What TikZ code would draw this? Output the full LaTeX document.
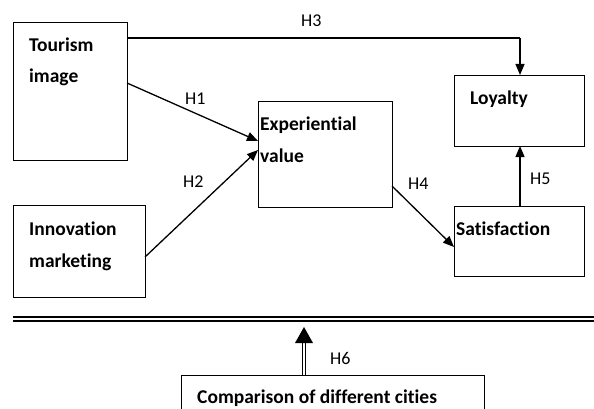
\documentclass[tikz,border=0pt]{standalone}
\usepackage{fontspec}
\setmainfont{Carlito}[Ligatures=CommonOff]
\usetikzlibrary{arrows.meta}
\begin{document}
\begin{tikzpicture}[x=1pt,y=-1pt,
  box/.style={draw, line width=1.3pt, inner sep=0pt, anchor=north west},
  lbl/.style={anchor=base west, inner sep=0pt, font=\fontsize{19.5}{22}\selectfont\bfseries},
  hyp/.style={anchor=base west, inner sep=0pt, font=\fontsize{18}{21}\selectfont},
  conn/.style={line width=1.3pt, -{Triangle[length=11pt,width=9pt]}},
  plain/.style={line width=1.3pt}]
\useasboundingbox (0,0) rectangle (594,409);
% boxes
\node[box, minimum width=114pt, minimum height=138pt] (ti) at (13,22) {};
\node[box, minimum width=132pt, minimum height=92pt] (im) at (13,205) {};
\node[box, minimum width=134pt, minimum height=106pt] (ev) at (258,101) {};
\node[box, minimum width=130pt, minimum height=71pt] (lo) at (454,75) {};
\node[box, minimum width=130pt, minimum height=70pt] (sa) at (454,206) {};
\node[box, minimum width=303pt, minimum height=60pt] (cc) at (181,375) {};
% texts
\node[lbl] (t1) at (29,52) {Tourism};
\node[lbl] (t2) at (29,83) {image};
\node[lbl] (t3) at (29,235) {Innovation};
\node[lbl] (t4) at (29,267) {marketing};
\node[lbl] (t5) at (260,131) {Experiential};
\node[lbl] (t6) at (260,162) {value};
\node[lbl] (t7) at (470,105) {Loyalty};
\node[lbl] (t8) at (456,235) {Satisfaction};
\node[lbl] (t9) at (197,403) {Comparison of different cities};
% hypothesis labels
\node[hyp] (h3) at (301,27) {H3};
\node[hyp] (h1) at (185,105) {H1};
\node[hyp] (h2) at (183,187) {H2};
\node[hyp] (h4) at (408,189) {H4};
\node[hyp] (h5) at (530,184) {H5};
\node[hyp] (h6) at (330,364) {H6};
% coordinates
\coordinate (tiR1) at (127,38);
\coordinate (bend) at (520,38);
\coordinate (loT) at (520,75);
\coordinate (tiR2) at (127,83);
\coordinate (evL1) at (258,141);
\coordinate (imR) at (145,257);
\coordinate (evL2) at (258,150);
\coordinate (evR) at (392,186);
\coordinate (saL) at (454,247);
\coordinate (saT) at (520,206);
\coordinate (loB) at (520,146);
\coordinate (dl1) at (13,317);
\coordinate (dr1) at (594,317);
\coordinate (dl2) at (13,321);
\coordinate (dr2) at (594,321);
\coordinate (ccT) at (304,375);
\coordinate (shaftEnd) at (304,343);
\coordinate (headTip) at (304,327);
% connectors
\draw[plain] (tiR1) -- (bend);
\draw[conn] (bend) -- (loT);
\draw[conn] (tiR2) -- (evL1);
\draw[conn] (imR) -- (evL2);
\draw[conn] (evR) -- (saL);
\draw[conn] (saT) -- (loB);
\draw[line width=1.5pt] (dl1) -- (dr1);
\draw[line width=1.5pt] (dl2) -- (dr2);
\draw[line width=1pt, double distance=2pt] (ccT) -- (shaftEnd);
\fill ([xshift=-9pt]shaftEnd) -- (headTip) -- ([xshift=9pt]shaftEnd) -- cycle;
\end{tikzpicture}
\end{document}
